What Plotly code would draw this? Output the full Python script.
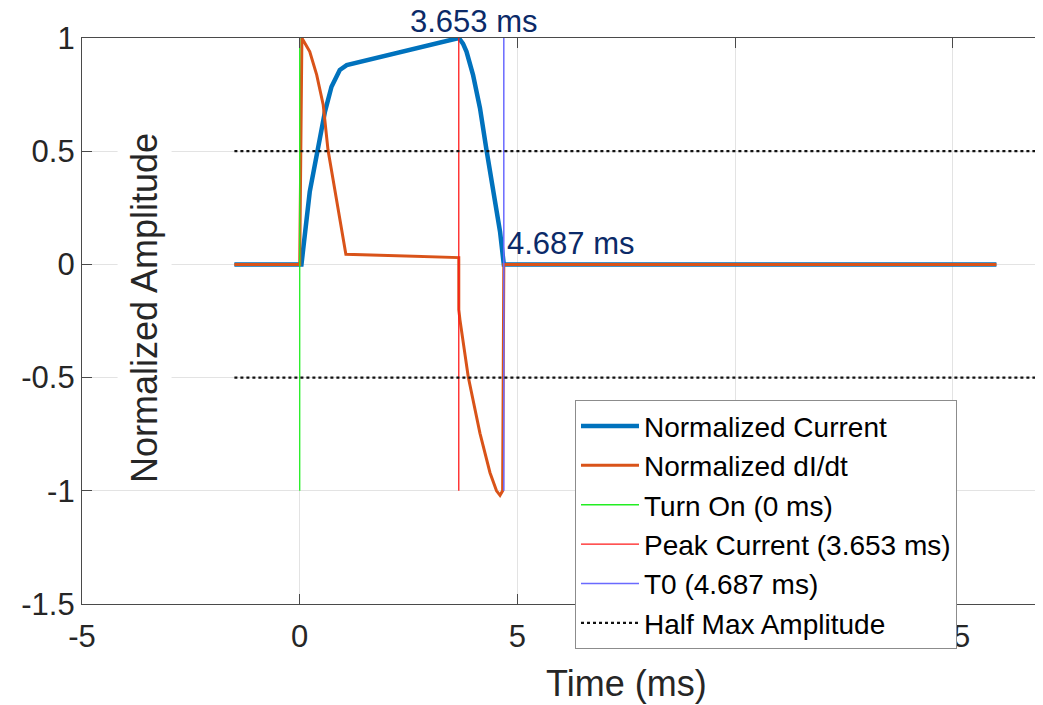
import plotly.graph_objects as go

# ---- data ----
current_t = [-1.5, 0, 0.04, 0.23, 0.42, 0.58, 0.73, 0.92, 1.08, 3.653,
             3.75, 3.83, 3.98, 4.14, 4.29, 4.44, 4.6, 4.687, 16]
current_v = [0, 0, 0.0, 0.32, 0.505, 0.675, 0.785, 0.859, 0.88, 1.0,
             0.975, 0.94, 0.837, 0.69, 0.505, 0.32, 0.145, 0, 0]

didt_t = [-1.5, 0, 0.05, 0.23, 0.39, 0.54, 0.65, 0.81, 0.96, 1.06, 3.653, 3.653, 3.68, 3.87, 4.14,
          4.37, 4.52, 4.6, 4.66, 4.687, 16]
didt_v = [0, 0, 1.0, 0.94, 0.837, 0.704, 0.505, 0.32, 0.145, 0.045, 0.03, -0.2, -0.245, -0.496, -0.746,
          -0.92, -1.0, -1.02, -1.0, 0, 0]

turn_on = 0.0
peak_t = 3.653
t0 = 4.687
marker_span = [-1, 1]
half_max_t = [-1.5, 17.1]
half_max_levels = [0.5, -0.5]

x_ticks = [-5, 0, 5, 10, 15]
y_ticks = [-1.5, -1, -0.5, 0, 0.5, 1]

FONT = "Liberation Sans, Arial, sans-serif"
AX = "#262626"

fig = go.Figure()
fig.add_trace(go.Scatter(x=current_t, y=current_v, mode="lines", name="Normalized Current",
                         line=dict(color="#0072BD", width=4.5)))
fig.add_trace(go.Scatter(x=didt_t, y=didt_v, mode="lines", name="Normalized dI/dt",
                         line=dict(color="#D95319", width=3)))
fig.add_trace(go.Scatter(x=[turn_on, turn_on], y=marker_span, mode="lines", name="Turn On (0 ms)",
                         line=dict(color="#22ee22", width=1.3)))
fig.add_trace(go.Scatter(x=[peak_t, peak_t], y=marker_span, mode="lines",
                         name=f"Peak Current ({peak_t:.3f} ms)", line=dict(color="#ff1a1a", width=1.3)))
fig.add_trace(go.Scatter(x=[t0, t0], y=marker_span, mode="lines", name=f"T0 ({t0:.3f} ms)",
                         line=dict(color="#6a6aff", width=1.5)))
for i, lvl in enumerate(half_max_levels):
    fig.add_trace(go.Scatter(x=half_max_t, y=[lvl, lvl], mode="lines", name="Half Max Amplitude",
                             showlegend=(i == 0), legendgroup="half",
                             line=dict(color="#111111", width=2.2, dash="dot")))

fig.add_annotation(x=4.0, y=1.0, xref="x", yref="y", yshift=17, text=f"{peak_t:.3f} ms",
                   showarrow=False, font=dict(family=FONT, size=31, color="#0B2A68"),
                   xanchor="center", yanchor="middle")
fig.add_annotation(x=4.72, y=0.092, xref="x", yref="y", text=f"{t0:.3f} ms",
                   showarrow=False, font=dict(family=FONT, size=31, color="#0B2A68"),
                   xanchor="left", yanchor="middle")
# y-axis label (drawn inside the axes with a white background)
fig.add_annotation(x=0.0656, y=0.523, xref="paper", yref="paper", text="Normalized Amplitude",
                   textangle=-90, showarrow=False, bgcolor="white", borderpad=6,
                   xanchor="center", yanchor="middle",
                   font=dict(family=FONT, size=36, color=AX))
# x-axis label centred on the original (wider) axes
fig.add_annotation(x=7.5, y=-0.141, xref="x", yref="paper", text="Time (ms)", showarrow=False,
                   font=dict(family=FONT, size=36, color=AX), xanchor="center", yanchor="middle")

fig.update_layout(
    width=1035, height=697, autosize=False,
    margin=dict(l=74, r=0, t=30, b=101),
    paper_bgcolor="white", plot_bgcolor="white",
    font=dict(family=FONT, color=AX),
    legend=dict(x=0.513, y=0.36, xanchor="left", yanchor="top", bgcolor="white",
                bordercolor="#8c8c8c", borderwidth=1, itemwidth=58,
                font=dict(family=FONT, size=28, color="#000000"), tracegroupgap=0),
    showlegend=True,
)
fig.update_xaxes(range=[-5, 17.07], tickvals=x_ticks, ticktext=[str(v) for v in x_ticks],
                 showgrid=True, gridcolor="#e3e3e3", gridwidth=1, zeroline=False,
                 showline=True, linecolor="#4a4a4a", linewidth=1.3, mirror="allticks",
                 ticks="inside", ticklen=10, tickcolor="#4a4a4a",
                 tickfont=dict(family=FONT, size=31, color=AX), ticklabelstandoff=5)
fig.update_yaxes(range=[-1.5, 1], tickvals=y_ticks, ticktext=["-1.5", "-1", "-0.5", "0", "0.5", "1"],
                 showgrid=True, gridcolor="#e3e3e3", gridwidth=1, zeroline=False,
                 showline=True, linecolor="#4a4a4a", linewidth=1.3, mirror=False,
                 ticks="inside", ticklen=10, tickcolor="#4a4a4a",
                 tickfont=dict(family=FONT, size=31, color=AX), ticklabelstandoff=0)

fig.write_html("out.html")
